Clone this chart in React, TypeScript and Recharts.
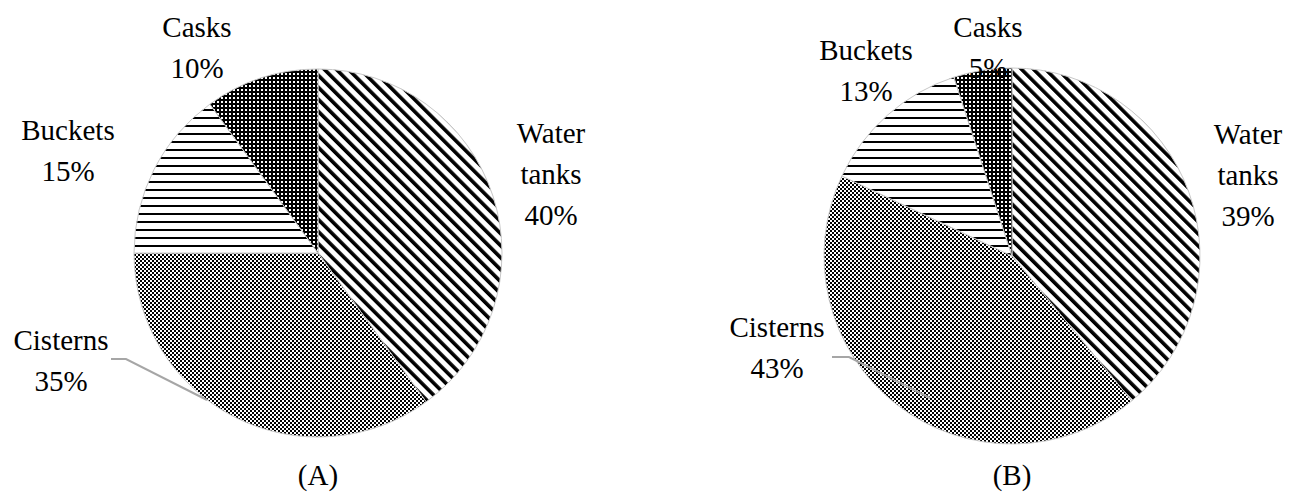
import React from 'react';
import { Pie, PieChart, Cell } from 'recharts';

// Share of water storage containers, two survey groups
const categories = ['Water tanks', 'Cisterns', 'Buckets', 'Casks'];
const valuesA = [40, 35, 15, 10];
const valuesB = [39, 43, 13, 5];
const panelTitles = ['(A)', '(B)'];

const PATTERNS = ['url(#diag)', 'url(#checker)', 'url(#hlines)', 'url(#dots)'];

const W = 1291;
const H = 492;
const FONT = "'Liberation Serif', 'Times New Roman', serif";
const FONT_SIZE = 29;
const LINE_GAP = 41;
const textStyle: React.CSSProperties = { fontFamily: FONT, fontSize: FONT_SIZE, fill: '#000' };

// label placement relative to the pie centre (x = text centre, y = first baseline)
type LabelSpot = { dx: number; dy: number; leader?: [number, number][] };
const LABELS_A: Record<string, LabelSpot> = {
  'Water tanks': { dx: 233, dy: -110 },
  Cisterns: { dx: -257, dy: 97, leader: [[-207, 106], [-192, 106], [-111, 147]] },
  Buckets: { dx: -250, dy: -113 },
  Casks: { dx: -121, dy: -216 },
};
const LABELS_B: Record<string, LabelSpot> = {
  'Water tanks': { dx: 236, dy: -112 },
  Cisterns: { dx: -235, dy: 81, leader: [[-180, 101], [-163, 101], [-82, 142]] },
  Buckets: { dx: -146, dy: -196 },
  Casks: { dx: -24, dy: -219 },
};

const toRows = (values: number[]) => categories.map((name, i) => ({ name, value: values[i] }));

function makeLabel(spots: Record<string, LabelSpot>) {
  return (props: any) => {
    const { cx, cy, name, value } = props;
    const spot = spots[name];
    if (!spot) return null;
    const lines = [...String(name).split(' '), `${value}%`];
    const x = cx + spot.dx;
    return (
      <g key={`lbl-${name}`}>
        {spot.leader && (
          <polyline
            points={spot.leader.map(([lx, ly]) => `${cx + lx},${cy + ly}`).join(' ')}
            fill="none"
            stroke="#a6a6a6"
            strokeWidth={2}
          />
        )}
        <text x={x} y={cy + spot.dy} textAnchor="middle" style={textStyle}>
          {lines.map((t, i) => (
            <tspan key={i} x={x} dy={i === 0 ? 0 : LINE_GAP}>
              {t}
            </tspan>
          ))}
        </text>
      </g>
    );
  };
}

export default function App() {
  const pies = [
    { data: toRows(valuesA), cx: 318, cy: 253, r: 184, spots: LABELS_A, title: panelTitles[0] },
    { data: toRows(valuesB), cx: 1012, cy: 256, r: 188, spots: LABELS_B, title: panelTitles[1] },
  ];

  return (
    <div style={{ position: 'absolute', left: 0, top: 0, width: W, height: H, background: '#fff' }}>
      <PieChart width={W} height={H} margin={{ top: 0, right: 0, bottom: 0, left: 0 }}>
        <defs>
          <pattern id="diag" width={8.5} height={8.5} patternUnits="userSpaceOnUse" patternTransform="rotate(-45)">
            <rect width={8.5} height={8.5} fill="#fff" />
            <rect width={3.6} height={8.5} fill="#000" />
          </pattern>
          <pattern id="hlines" width={8} height={8} patternUnits="userSpaceOnUse">
            <rect width={8} height={8} fill="#fff" />
            <rect y={5} width={8} height={2} fill="#000" />
          </pattern>
          <pattern id="checker" width={4} height={4} patternUnits="userSpaceOnUse">
            <rect width={4} height={4} fill="#fff" />
            <rect width={2} height={2} fill="#000" />
            <rect x={2} y={2} width={2} height={2} fill="#000" />
          </pattern>
          <pattern id="dots" width={4} height={4} patternUnits="userSpaceOnUse">
            <rect width={4} height={4} fill="#000" />
            <rect x={1} y={1} width={2} height={2} fill="#fff" />
          </pattern>
        </defs>
        {pies.map((p, k) => (
          <Pie
            key={k}
            data={p.data}
            dataKey="value"
            nameKey="name"
            cx={p.cx}
            cy={p.cy}
            outerRadius={p.r}
            startAngle={90}
            endAngle={-270}
            stroke="#c8c8c8"
            strokeWidth={1}
            labelLine={false}
            label={makeLabel(p.spots)}
            isAnimationActive={false}
          >
            {p.data.map((row, i) => (
              <Cell key={row.name} fill={PATTERNS[i]} />
            ))}
          </Pie>
        ))}
        {pies.map((p, k) => (
          <text key={`t${k}`} x={p.cx} y={485} textAnchor="middle" style={textStyle}>
            {p.title}
          </text>
        ))}
      </PieChart>
    </div>
  );
}
